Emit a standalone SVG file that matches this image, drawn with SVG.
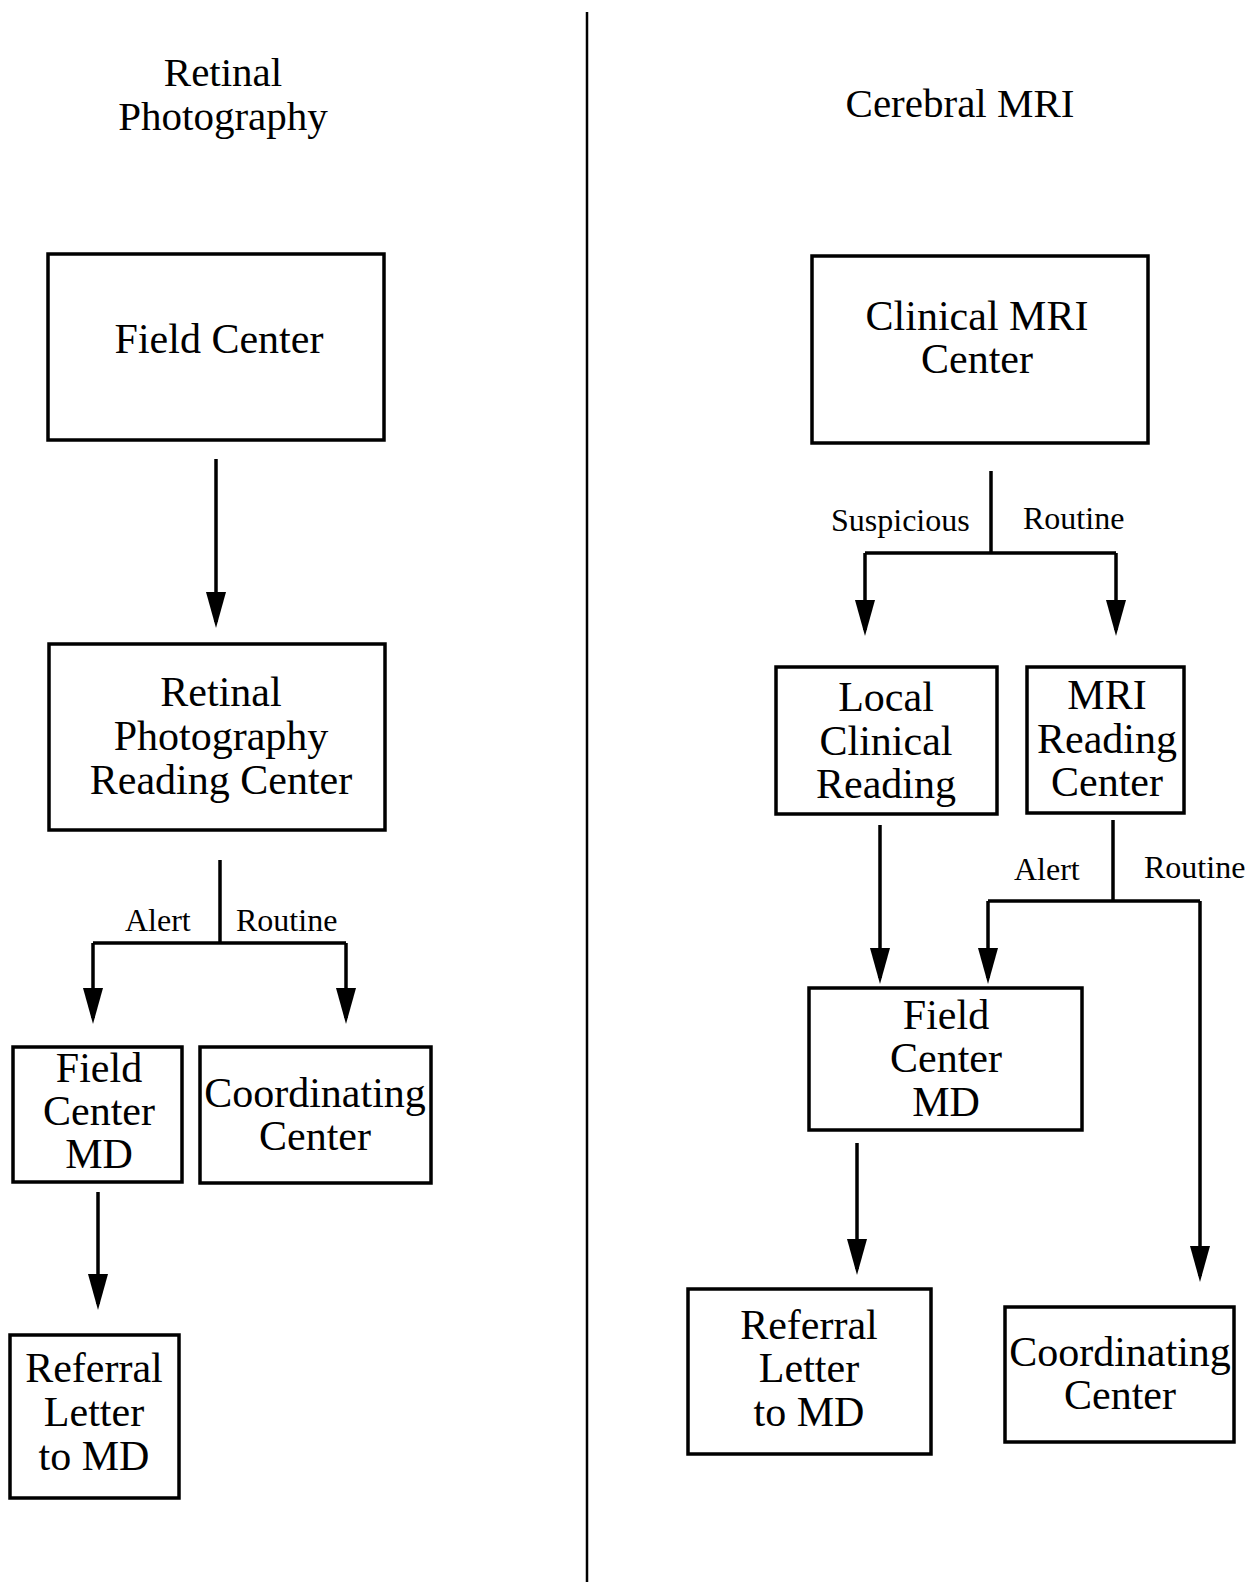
<svg xmlns="http://www.w3.org/2000/svg" width="1253" height="1582" viewBox="0 0 1253 1582">
<style>
.box{fill:#fff;stroke:#000;stroke-width:3.5}
.t{font-family:"Liberation Serif","Times New Roman",serif;font-size:42px;fill:#000;text-anchor:middle}
.title{font-family:"Liberation Serif","Times New Roman",serif;font-size:41px;fill:#000;text-anchor:middle}
.lbl{font-family:"Liberation Serif","Times New Roman",serif;font-size:32px;fill:#000}
.c{fill:none;stroke:#000;stroke-width:3.5}
</style>
<defs>
<marker id="ah" markerUnits="userSpaceOnUse" markerWidth="40" markerHeight="22" refX="30" refY="10" orient="auto">
<path d="M0,0 L36,10 L0,20 z" fill="#000"/>
</marker>
</defs>
<rect width="1253" height="1582" fill="#fff"/>
<line x1="587" y1="12" x2="587" y2="1582" stroke="#000" stroke-width="2.5"/>
<text class="title" x="223" y="86">Retinal</text>
<text class="title" x="223" y="130">Photography</text>
<text class="title" x="960" y="117">Cerebral MRI</text>

<g id="connectors">
<path class="c" d="M216,459 V622" marker-end="url(#ah)"/>
<path class="c" d="M220,860 V943"/>
<path class="c" d="M93,943 H346"/>
<path class="c" d="M93,943 V1018" marker-end="url(#ah)"/>
<path class="c" d="M346,943 V1018" marker-end="url(#ah)"/>
<path class="c" d="M98,1192 V1304" marker-end="url(#ah)"/>
<path class="c" d="M991,471 V553"/>
<path class="c" d="M865,553 H1116"/>
<path class="c" d="M865,553 V630" marker-end="url(#ah)"/>
<path class="c" d="M1116,553 V630" marker-end="url(#ah)"/>
<path class="c" d="M880,825 V978" marker-end="url(#ah)"/>
<path class="c" d="M1113,820 V901"/>
<path class="c" d="M988,901 H1200"/>
<path class="c" d="M988,901 V978" marker-end="url(#ah)"/>
<path class="c" d="M1200,901 V1276" marker-end="url(#ah)"/>
<path class="c" d="M857,1143 V1269" marker-end="url(#ah)"/>
<text class="lbl" x="125" y="931">Alert</text>
<text class="lbl" x="236" y="931">Routine</text>
<text class="lbl" x="831" y="531">Suspicious</text>
<text class="lbl" x="1023" y="529">Routine</text>
<text class="lbl" x="1014" y="880">Alert</text>
<text class="lbl" x="1144" y="878">Routine</text>
</g>

<g id="field-center">
<rect class="box" x="48" y="254" width="336" height="186"/>
<text class="t" x="219" y="353">Field Center</text>
</g>
<g id="rp-reading-center">
<rect class="box" x="49" y="644" width="336" height="186"/>
<text class="t" x="221" y="706">Retinal</text>
<text class="t" x="221" y="750">Photography</text>
<text class="t" x="221" y="794">Reading Center</text>
</g>
<g id="left-field-center-md">
<rect class="box" x="13" y="1047" width="169" height="135"/>
<text class="t" x="99" y="1082">Field</text>
<text class="t" x="99" y="1125">Center</text>
<text class="t" x="99" y="1168">MD</text>
</g>
<g id="left-coordinating-center">
<rect class="box" x="200" y="1047" width="231" height="136"/>
<text class="t" x="315" y="1107">Coordinating</text>
<text class="t" x="315" y="1150">Center</text>
</g>
<g id="left-referral">
<rect class="box" x="10" y="1335" width="169" height="163"/>
<text class="t" x="94" y="1382">Referral</text>
<text class="t" x="94" y="1426">Letter</text>
<text class="t" x="94" y="1470">to MD</text>
</g>

<g id="clinical-mri-center">
<rect class="box" x="812" y="256" width="336" height="187"/>
<text class="t" x="977" y="330">Clinical MRI</text>
<text class="t" x="977" y="373">Center</text>
</g>
<g id="local-clinical-reading">
<rect class="box" x="776" y="667" width="221" height="147"/>
<text class="t" x="886" y="711">Local</text>
<text class="t" x="886" y="755">Clinical</text>
<text class="t" x="886" y="798">Reading</text>
</g>
<g id="mri-reading-center">
<rect class="box" x="1027" y="667" width="157" height="146"/>
<text class="t" x="1107" y="709">MRI</text>
<text class="t" x="1107" y="753">Reading</text>
<text class="t" x="1107" y="796">Center</text>
</g>
<g id="right-field-center-md">
<rect class="box" x="809" y="988" width="273" height="142"/>
<text class="t" x="946" y="1029">Field</text>
<text class="t" x="946" y="1072">Center</text>
<text class="t" x="946" y="1116">MD</text>
</g>
<g id="right-referral">
<rect class="box" x="688" y="1289" width="243" height="165"/>
<text class="t" x="809" y="1339">Referral</text>
<text class="t" x="809" y="1382">Letter</text>
<text class="t" x="809" y="1426">to MD</text>
</g>
<g id="right-coordinating-center">
<rect class="box" x="1005" y="1307" width="229" height="135"/>
<text class="t" x="1120" y="1366">Coordinating</text>
<text class="t" x="1120" y="1409">Center</text>
</g>
</svg>
